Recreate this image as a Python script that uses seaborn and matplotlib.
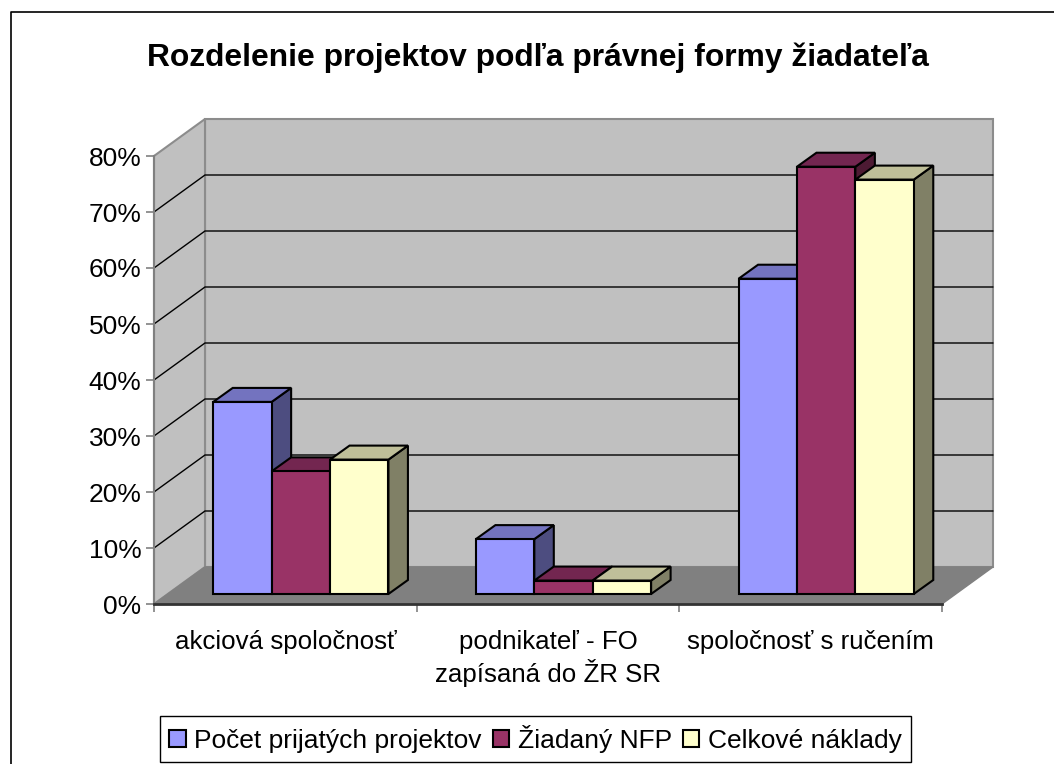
import matplotlib
matplotlib.use("Agg")
import matplotlib.pyplot as plt
import pandas as pd
import seaborn as sns
from matplotlib.patches import Polygon
from matplotlib.ticker import PercentFormatter
from matplotlib.transforms import Affine2D

categories = ["akciová spoločnosť", "podnikateľ - FO\nzapísaná do ŽR SR", "spoločnosť s ručením"]
series_names = ["Počet prijatých projektov", "Žiadaný NFP", "Celkové náklady"]
pocet = [34.3, 9.8, 56.3]
nfp = [21.9, 2.4, 76.3]
naklady = [24.0, 2.4, 74.0]
colors = ["#9999ff", "#993366", "#ffffcc"]
side_colors = ["#4d4d80", "#4d1a33", "#808066"]
top_colors = ["#7373bf", "#732650", "#bfbf99"]
title = "Rozdelenie projektov podľa právnej formy žiadateľa"

W, H = 1054, 764

df = pd.DataFrame({
    "forma": categories * 3,
    "seria": [s for s in series_names for _ in categories],
    "podiel": pocet + nfp + naklady,
})

sns.set_theme(style="white")
plt.rcParams["font.family"] = ["Liberation Sans", "DejaVu Sans"]

fig = plt.figure(figsize=(W / 100, H / 100), dpi=100)
ax = fig.add_axes([154 / W, 1 - 604 / H, (942 - 154) / W, (604 - 156) / H])

sns.barplot(data=df, x="forma", y="podiel", hue="seria", palette=colors, width=0.667, gap=0,
            saturation=1, edgecolor="black", linewidth=1.5, ax=ax)

ax.set_xlim(-0.5, 2.5)
ax.set_ylim(0, 80)
ax.set_xlabel("")
ax.set_ylabel("")
ax.patch.set_visible(False)
ax.yaxis.set_major_formatter(PercentFormatter(100, decimals=0))
ax.set_yticks(range(0, 81, 10))
ax.set_xticks([-0.5, 0.5, 1.5, 2.5], minor=True)
ax.tick_params(axis="y", which="major", left=True, length=6, width=1.2, color="#808080", labelsize=19, pad=3, labelcolor="black")
ax.tick_params(axis="x", which="major", bottom=False, length=0, labelsize=18.6, pad=18.5, labelcolor="black")
ax.tick_params(axis="x", which="minor", bottom=True, length=6, width=1.2, color="#808080")
for lab in ax.get_xticklabels():
    lab.set_linespacing(1.22)
sns.despine(ax=ax, top=True, right=True)
ax.spines["left"].set_color("#808080")
ax.spines["left"].set_linewidth(1.5)
ax.spines["bottom"].set_color("#333333")
ax.spines["bottom"].set_linewidth(2)

# depth of the box and of the bars, in pixels
bar_shift = Affine2D().translate(15.5, 10)
bar_dx, bar_dy = 19.5, 14

to_px = ax.transData
wall = {"facecolor": "#c0c0c0", "edgecolor": "#8c8c8c", "linewidth": 1.5, "clip_on": False}

def px(x, y):
    return tuple(to_px.transform((x, y)))

def shifted(point, dx, dy):
    return (point[0] + dx, point[1] + dy)

x0, x1 = ax.get_xlim()
y_top = ax.get_ylim()[1]
a, b = px(x0, 0), px(x1, 0)
c = px(x0, y_top)
ident = Affine2D()
# back wall, left wall, floor
ax.add_patch(Polygon([shifted(a, 51, 37), shifted(b, 51, 37), shifted(px(x1, y_top), 51, 37), shifted(c, 51, 37)],
                     transform=ident, zorder=0.1, **wall))
ax.add_patch(Polygon([a, shifted(a, 51, 37), shifted(c, 51, 37), c], transform=ident, zorder=0.2, **wall))
ax.add_patch(Polygon([a, b, shifted(b, 51, 37), shifted(a, 51, 37)], transform=ident, zorder=0.3,
                     facecolor="#808080", edgecolor="#808080", linewidth=1, clip_on=False))
for v in ax.get_yticks()[1:-1]:
    p0 = px(x0, v)
    p1 = shifted(p0, 51, 37)
    p2 = shifted(px(x1, v), 51, 37)
    ax.plot([p0[0], p1[0], p2[0]], [p0[1], p1[1], p2[1]], color="black", lw=1, transform=ident,
            zorder=0.4, clip_on=False, solid_joinstyle="miter")

# extrude the bars that seaborn drew
bars = [p for cont in ax.containers for p in cont]
n = len(categories)
ordered = sorted(range(len(bars)), key=lambda i: bars[i].get_x())
for rank, i in enumerate(ordered):
    bar = bars[i]
    series = i // n
    bar.set_transform(ax.transData + bar_shift)
    bar.set_clip_on(False)
    bar.set_zorder(2 + rank + 0.2)
    bx0, by0 = px(bar.get_x(), bar.get_y())
    bx1, by1 = px(bar.get_x() + bar.get_width(), bar.get_height())
    bx0, bx1 = bx0 + 15.5, bx1 + 15.5
    by0, by1 = by0 + 10, by1 + 10
    side = [(bx1, by0), (bx1 + bar_dx, by0 + bar_dy), (bx1 + bar_dx, by1 + bar_dy), (bx1, by1)]
    top = [(bx0, by1), (bx1, by1), (bx1 + bar_dx, by1 + bar_dy), (bx0 + bar_dx, by1 + bar_dy)]
    ax.add_patch(Polygon(side, transform=ident, facecolor=side_colors[series], edgecolor="black",
                         linewidth=1.5, zorder=2 + rank, clip_on=False))
    ax.add_patch(Polygon(top, transform=ident, facecolor=top_colors[series], edgecolor="black",
                         linewidth=1.5, zorder=2 + rank + 0.1, clip_on=False))

sns.move_legend(ax, loc="center", bbox_to_anchor=(535.5 / W, 1 - 739 / H), bbox_transform=fig.transFigure,
                ncol=3, title=None, frameon=True, fancybox=False, edgecolor="black", framealpha=1,
                fontsize=19, handlelength=0.62, handleheight=0.62, handletextpad=0.32, columnspacing=0.43,
                borderpad=0.33, borderaxespad=0, labelcolor="black")
ax.get_legend().get_frame().set_linewidth(1)
ax.get_legend().set_zorder(20)

fig.text(537.5 / W, 1 - 57.5 / H, title, ha="center", va="center", fontsize=22.9, fontweight="bold", color="black")

# outer chart frame, open on the right and at the bottom
fig.add_artist(plt.Line2D([10.5 / W, 10.5 / W, 1], [0, 1 - 11.5 / H, 1 - 11.5 / H],
                          color="black", lw=1.2))

fig.savefig("out.png", dpi=100)
